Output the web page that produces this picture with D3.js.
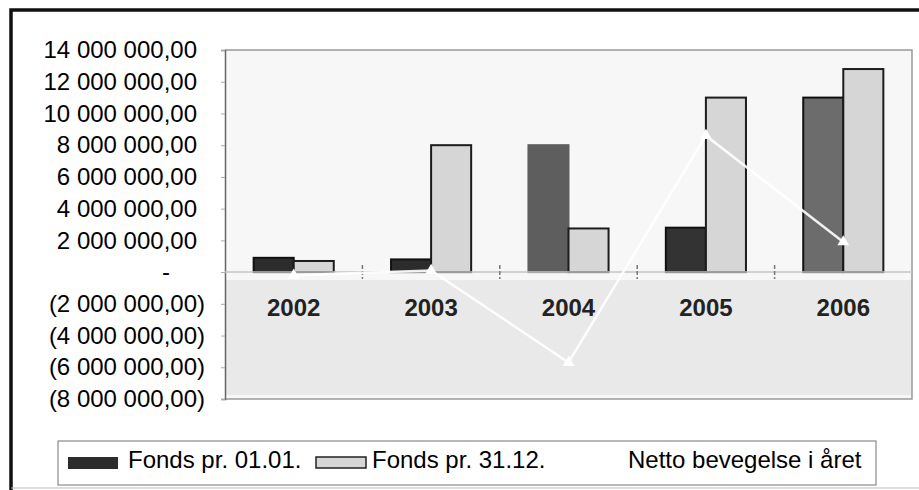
<!DOCTYPE html>
<html>
<head>
<meta charset="utf-8">
<script src="https://cdn.jsdelivr.net/npm/d3@7"></script>
<style>
  body { margin: 0; background: #fff; }
  text { font-family: Arial, "Liberation Sans", sans-serif; }
</style>
</head>
<body>
<div id="graph"></div>
<script>
// data
const years = ['2002', '2003', '2004', '2005', '2006']
const fondsStart = [900000, 800000, 8000000, 2800000, 11000000]   // Fonds pr. 01.01.
const fondsEnd = [700000, 8000000, 2750000, 11000000, 12800000]   // Fonds pr. 31.12.
const netto = [-200000, 100000, -5700000, 8600000, 1900000]       // Netto bevegelse i året
const yTicks = [-8000000, -6000000, -4000000, -2000000, 0, 2000000, 4000000, 6000000, 8000000, 10000000, 12000000, 14000000]
const seriesNames = ['Fonds pr. 01.01.', 'Fonds pr. 31.12.', 'Netto bevegelse i året']

// scan-like shades for the dark bars, one per year
const darkFills = ['#2c2c2c', '#2c2c2c', '#5e5e5e', '#333333', '#6c6c6c']

const total_width = 919
const total_height = 490
const plot = { left: 225, right: 912, top: 50, bottom: 399 }

const svg = d3.select('#graph').append('svg')
  .attr('width', total_width)
  .attr('height', total_height)

const x = d3.scaleBand().domain(years).range([plot.left, plot.right])
const x1 = d3.scaleBand().domain(['start', 'end']).range([0, x.bandwidth()]).paddingOuter(0.715)
const y = d3.scaleLinear().domain([-8000000, 14000000]).range([plot.bottom, plot.top])

const locale = d3.formatLocale({ decimal: ',', thousands: ' ', grouping: [3], currency: ['', ''] })
const num = locale.format(',.2f')
function accounting(d) {
  if (d === 0) return '-'
  if (d < 0) return '(' + num(-d) + ')'
  return num(d)
}

// plot background (upper almost white, band under the axis a bit greyer like the scan)
svg.append('rect')
  .attr('x', plot.left).attr('y', plot.top)
  .attr('width', plot.right - plot.left).attr('height', plot.bottom - plot.top)
  .attr('fill', '#f7f7f7')
svg.append('rect')
  .attr('x', plot.left).attr('y', y(0) + 8)
  .attr('width', plot.right - plot.left).attr('height', plot.bottom - y(0) - 12)
  .attr('fill', '#e9e9e9')

// plot border
svg.append('path')
  .attr('d', `M${plot.left},${plot.top}H${plot.right}V${plot.bottom}H${plot.left}`)
  .attr('fill', 'none')
  .attr('stroke', '#9a9a9a')
  .attr('stroke-width', 1.5)

// y axis
const yAxis = svg.append('g')
  .attr('transform', `translate(${plot.left},0)`)
  .call(d3.axisLeft(y).tickValues(yTicks).tickFormat(accounting).tickSize(4).tickPadding(16))
yAxis.select('.domain').attr('stroke', '#666').attr('stroke-width', 1.5)
yAxis.selectAll('.tick line').attr('stroke', '#aaa')
yAxis.selectAll('.tick text')
  .attr('font-size', 24)
  .attr('fill', '#000')
  .attr('x', d => d === 0 ? -55 : (d > 0 ? -28 : -20))

// bars
const groups = svg.append('g').selectAll('g')
  .data(years)
  .join('g')
  .attr('transform', d => `translate(${x(d)},0)`)

groups.append('rect')
  .attr('x', x1('start'))
  .attr('y', (d, i) => y(Math.max(0, fondsStart[i])))
  .attr('width', x1.bandwidth())
  .attr('height', (d, i) => Math.abs(y(fondsStart[i]) - y(0)))
  .attr('fill', (d, i) => darkFills[i])
  .attr('stroke', (d, i) => i === 2 ? '#5e5e5e' : '#111')
  .attr('stroke-width', 2)

groups.append('rect')
  .attr('x', x1('end'))
  .attr('y', (d, i) => y(Math.max(0, fondsEnd[i])))
  .attr('width', x1.bandwidth())
  .attr('height', (d, i) => Math.abs(y(fondsEnd[i]) - y(0)))
  .attr('fill', '#d6d6d6')
  .attr('stroke', '#1c1c1c')
  .attr('stroke-width', 2)

// category axis through zero
svg.append('line')
  .attr('x1', plot.left).attr('x2', plot.right)
  .attr('y1', y(0)).attr('y2', y(0))
  .attr('stroke', '#c4c4c4').attr('stroke-width', 1.5)
svg.append('g').selectAll('line')
  .data(years.slice(1))
  .join('line')
  .attr('x1', d => x(d)).attr('x2', d => x(d))
  .attr('y1', y(0) - 7).attr('y2', y(0) + 7)
  .attr('stroke', '#777').attr('stroke-width', 1.5)
  .attr('stroke-dasharray', '4,2')

svg.append('g').selectAll('text')
  .data(years)
  .join('text')
  .attr('x', d => x(d) + x.bandwidth() / 2)
  .attr('y', y(0) + 44)
  .attr('text-anchor', 'middle')
  .attr('font-size', 24)
  .attr('font-weight', 'bold')
  .attr('fill', '#222')
  .text(d => d)

// netto line (white, as in the original)
const line = d3.line()
  .x((d, i) => x(years[i]) + x.bandwidth() / 2)
  .y(d => y(d))
svg.append('path')
  .datum(netto)
  .attr('d', line)
  .attr('fill', 'none')
  .attr('stroke', '#fff')
  .attr('stroke-width', 2.5)
  .attr('opacity', 0.9)
svg.append('g').selectAll('path')
  .data(netto)
  .join('path')
  .attr('transform', (d, i) => `translate(${x(years[i]) + x.bandwidth() / 2},${y(d)})`)
  .attr('d', d3.symbol(d3.symbolTriangle, 60))
  .attr('fill', '#fff')

// outer frame of the scan
svg.append('path')
  .attr('d', 'M11,490V10H919')
  .attr('fill', 'none')
  .attr('stroke', '#111')
  .attr('stroke-width', 3.5)
svg.append('line')
  .attr('x1', 11).attr('x2', 919).attr('y1', 488).attr('y2', 488)
  .attr('stroke', '#bbb').attr('stroke-width', 1)

// legend
const legend = svg.append('g')
legend.append('rect')
  .attr('x', 58).attr('y', 441)
  .attr('width', 818).attr('height', 44)
  .attr('fill', '#fff')
  .attr('stroke', '#8a8a8a')
  .attr('stroke-width', 1.2)

const legendX = [68, 316, 578]
legend.append('rect')
  .attr('x', legendX[0]).attr('y', 457)
  .attr('width', 50).attr('height', 12)
  .attr('fill', '#2c2c2c')
legend.append('rect')
  .attr('x', legendX[1]).attr('y', 457)
  .attr('width', 50).attr('height', 11)
  .attr('fill', '#d6d6d6')
  .attr('stroke', '#222').attr('stroke-width', 1.5)
legend.append('line')
  .attr('x1', legendX[2]).attr('x2', legendX[2] + 40)
  .attr('y1', 462).attr('y2', 462)
  .attr('stroke', '#fff').attr('stroke-width', 3)

legend.selectAll('text')
  .data(seriesNames)
  .join('text')
  .attr('x', (d, i) => [128, 372, 628][i])
  .attr('y', 468)
  .attr('font-size', 24)
  .attr('fill', '#000')
  .text(d => d)
</script>
</body>
</html>
